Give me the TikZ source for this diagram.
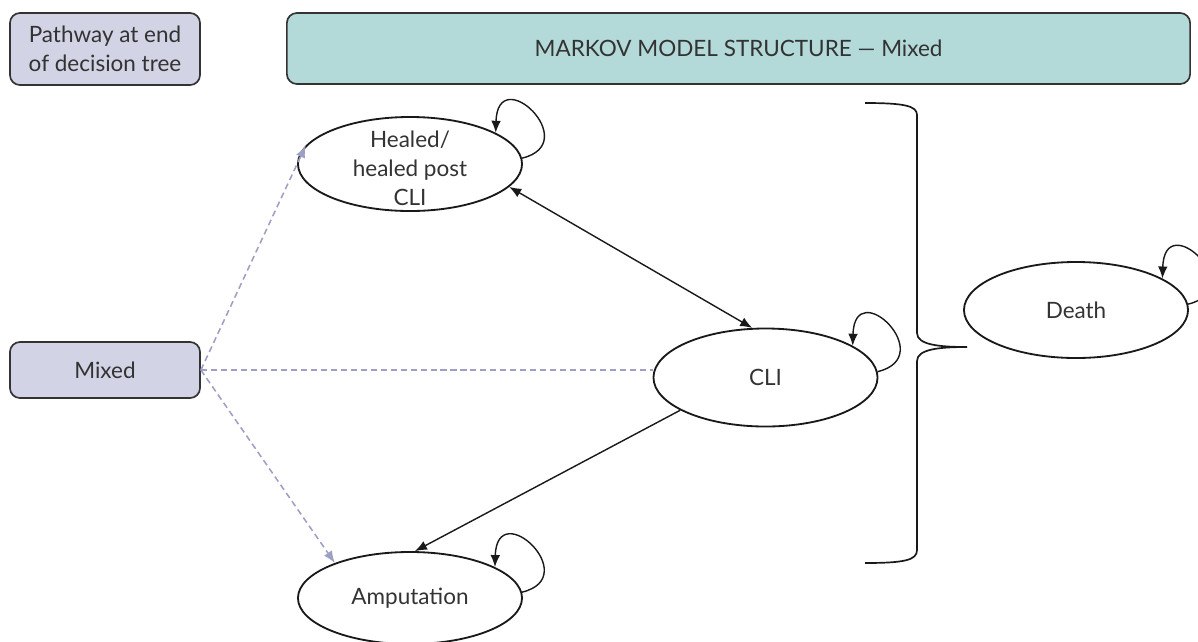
\documentclass[tikz,border=0pt]{standalone}
\usepackage{fontspec}
\setmainfont{Lato}
\usetikzlibrary{arrows.meta}
\usetikzlibrary{shapes.geometric}
\definecolor{boxlilac}{HTML}{D2D3E4}
\definecolor{boxteal}{HTML}{B3D9D9}
\definecolor{dashlilac}{HTML}{9DA0C3}
\definecolor{inkgray}{HTML}{333333}

\begin{document}
\begin{tikzpicture}[x=0.025cm,y=-0.025cm,
  font=\fontsize{16}{20.5}\selectfont,
  >={Latex[length=3mm,width=2.4mm]},
  roundbox/.style={draw=inkgray,line width=1.2pt,rounded corners=0.25cm,text=inkgray,align=center,inner sep=0pt},
  state/.style={ellipse,draw=black!90,line width=1.3pt,minimum width=5.6cm,inner sep=0pt,text=inkgray},
  trans/.style={black!90,line width=1pt},
  pathway/.style={dashlilac,line width=1.1pt,dash pattern=on 4.3pt off 2.8pt}]
\useasboundingbox (0,0) rectangle (1198,641);

% headers and starting box
\node[roundbox,fill=boxlilac,minimum width=4.75cm,minimum height=1.8cm] (pathway) at (105,49) {Pathway at end\\of decision tree};
\node[roundbox,fill=boxteal,minimum width=22.575cm,minimum height=1.775cm] (markov) at (738.5,48.5) {MARKOV MODEL STRUCTURE — Mixed};
\node[roundbox,fill=boxlilac,minimum width=4.75cm,minimum height=1.4cm] (mixed) at (105,370) {Mixed};

% Markov states
\node[state,minimum height=2.35cm] (healed) at (410,164) {\smash{\raisebox{-0.32cm}{\begin{tabular}{@{}c@{}}Healed/\\healed post\\CLI\end{tabular}}}};
\node[state,minimum height=2.45cm] (cli) at (765.5,377.5) {CLI};
\node[state,minimum height=2.3cm] (amp) at (410,598) {Amputation};
\node[state,minimum height=2.4cm] (death) at (1076,310) {Death};

% transitions
\draw[trans,<->] (healed.-13) -- (cli.105);
\draw[trans,->] (cli.201) -- (amp.84);
\foreach \s in {healed,cli,amp,death}
  \draw[trans,->] (\s.3) .. controls +(62,-15) and +(2,-72) .. (\s.20);

\draw[pathway,->] (mixed.east) -- (healed.170);
\draw[pathway] (mixed.east) -- (mixed.east -| cli.west);
\draw[pathway,->] (mixed.east) -- (amp.155);

% brace to death
\draw[trans,line width=1.2pt] (865,103) .. controls (905,103) and (917,106) .. (917,115) -- (917,333)
  .. controls (917,345) and (940,347) .. (967,347) coordinate (bracetip)
  .. controls (940,347) and (917,349) .. (917,361) -- (917,550)
  .. controls (917,560) and (905,563) .. (865,563);

\end{tikzpicture}
\end{document}
